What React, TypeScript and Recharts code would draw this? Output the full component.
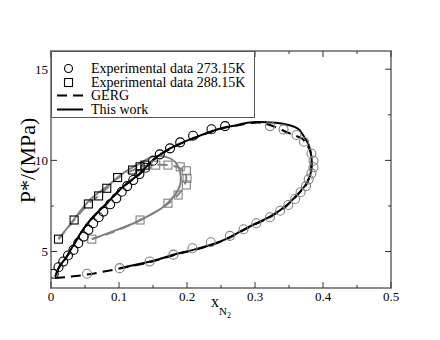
import React from "react";
import {
  ComposedChart,
  Line,
  Scatter,
  XAxis,
  YAxis,
  ReferenceArea,
  Legend,
} from "recharts";

const W = 440;
const H = 340;
const MARGIN = { top: 51, right: 49, bottom: 51, left: 50 };
const PLOT_W = W - MARGIN.left - 1 - MARGIN.right;
const PLOT_H = H - MARGIN.top - MARGIN.bottom - 1;

const FONT = '"Liberation Serif", "Times New Roman", serif';
const BLACK = "#000";
const GRAY = "#808080";
const FRAME = "#8c8c8c";
const TICK = "#333";

const X_TICKS = [0, 0.05, 0.1, 0.15, 0.2, 0.25, 0.3, 0.35, 0.4, 0.45, 0.5];
const Y_TICKS = [5, 7.5, 10, 12.5, 15];

type Pt = [number, number];

// experimental 273.15 K
const EXP273_BUBBLE: Pt[] = [
  [0.004, 3.78], [0.011, 4.14], [0.018, 4.45], [0.025, 4.78], [0.033, 5.09],
  [0.040, 5.46], [0.048, 5.82], [0.055, 6.19], [0.062, 6.55], [0.070, 6.88],
  [0.077, 7.19], [0.087, 7.59], [0.096, 7.92], [0.104, 8.28], [0.112, 8.59],
  [0.121, 8.92], [0.130, 9.25], [0.139, 9.6], [0.150, 9.98], [0.160, 10.33],
  [0.175, 10.66], [0.190, 10.99], [0.209, 11.35], [0.236, 11.71], [0.256, 11.88],
];
const EXP273_DEW: Pt[] = [
  [0.322, 11.88], [0.342, 11.7], [0.361, 11.39], [0.372, 11.02], [0.383, 10.38],
  [0.386, 9.98], [0.386, 9.62], [0.383, 9.29], [0.379, 8.96], [0.375, 8.59],
  [0.367, 8.25], [0.359, 7.88], [0.349, 7.55], [0.337, 7.24], [0.322, 6.88],
  [0.302, 6.55], [0.283, 6.22], [0.263, 5.86], [0.235, 5.51], [0.208, 5.18],
  [0.180, 4.83], [0.145, 4.45], [0.101, 4.09], [0.053, 3.78],
];

// experimental 288.15 K
const EXP288_BUBBLE: Pt[] = [
  [0.011, 5.68], [0.034, 6.73], [0.055, 7.61], [0.070, 8.05], [0.082, 8.47],
  [0.098, 9.06], [0.120, 9.47], [0.131, 9.65], [0.138, 9.74],
];
const EXP288_DEW: Pt[] = [
  [0.154, 9.74], [0.172, 9.74], [0.190, 9.65], [0.199, 9.43], [0.200, 9.02],
  [0.199, 8.65], [0.187, 8.1], [0.172, 7.65], [0.131, 6.73], [0.060, 5.68],
];

// model curves
const WORK273: Pt[] = [
  [0.006, 3.61], [0.013, 4.22], [0.023, 4.72], [0.043, 5.98], [0.062, 6.91],
  [0.082, 7.65], [0.106, 8.56], [0.131, 9.29], [0.150, 10.02], [0.180, 10.75],
  [0.214, 11.29], [0.249, 11.75], [0.273, 11.93], [0.300, 12.1], [0.351, 11.93],
  [0.369, 11.48], [0.378, 10.93], [0.383, 10.2], [0.383, 9.47], [0.376, 8.74],
  [0.364, 8.19], [0.347, 7.55], [0.322, 6.91], [0.302, 6.55], [0.278, 6.09],
  [0.249, 5.55], [0.209, 5.09], [0.180, 4.82], [0.146, 4.45], [0.101, 4.09],
];
const GERG273: Pt[] = [
  [0.006, 3.55], [0.05, 3.72], [0.101, 4.07], [0.146, 4.43], [0.180, 4.8],
  [0.209, 5.07], [0.249, 5.53], [0.278, 6.07], [0.302, 6.53], [0.322, 6.89],
  [0.347, 7.53], [0.364, 8.17], [0.376, 8.72], [0.382, 9.45], [0.383, 10.0],
  [0.381, 10.55], [0.375, 10.9], [0.369, 11.2], [0.351, 11.48], [0.325, 11.9],
  [0.300, 12.07], [0.273, 11.91], [0.249, 11.73], [0.214, 11.27], [0.180, 10.73],
  [0.150, 10.0], [0.131, 9.27], [0.106, 8.54], [0.082, 7.63], [0.062, 6.89],
  [0.043, 5.96], [0.023, 4.7], [0.013, 4.2], [0.006, 3.6],
];
const WORK288: Pt[] = [
  [0.011, 5.68], [0.033, 6.73], [0.057, 7.83], [0.082, 8.56], [0.106, 9.29],
  [0.131, 9.84], [0.150, 10.21], [0.170, 10.18], [0.185, 9.8], [0.191, 9.03],
  [0.187, 8.38], [0.176, 7.83], [0.163, 7.39], [0.146, 7.01], [0.126, 6.62],
  [0.093, 6.13], [0.060, 5.68],
];
const GERG288: Pt[] = [
  [0.011, 5.68], [0.034, 6.73], [0.055, 7.61], [0.070, 8.05], [0.082, 8.47],
  [0.098, 9.02], [0.120, 9.45], [0.138, 9.7], [0.155, 9.76], [0.172, 9.74],
  [0.188, 9.6], [0.197, 9.35], [0.199, 9.0], [0.196, 8.62], [0.187, 8.12],
  [0.172, 7.62], [0.150, 7.1], [0.131, 6.73], [0.100, 6.2], [0.060, 5.68],
];

const LEGEND_LABELS = [
  "Experimental data 273.15K",
  "Experimental data 288.15K",
  "GERG",
  "This work",
];

const toRows = (pts: Pt[]) => pts.map(([x, y]) => ({ x, y }));

const circle = (color: string) => (p: any) => (
  <circle cx={p.cx} cy={p.cy} r={4.5} fill="none" stroke={color} strokeWidth={1.1} />
);
const square = (color: string) => (p: any) => (
  <rect x={p.cx - 4} y={p.cy - 4} width={8} height={8} fill="none" stroke={color} strokeWidth={1.1} />
);

// ticks drawn inward on both sides of the frame
function XTick({ x, y, payload }: any) {
  const v: number = payload.value;
  const major = Math.round(v * 100) % 10 === 0;
  const len = major ? 6 : 3;
  return (
    <g>
      <line x1={x} x2={x} y1={y} y2={y - len} stroke={TICK} />
      <line x1={x} x2={x} y1={y - PLOT_H} y2={y - PLOT_H + len} stroke={TICK} />
      {major && (
        <text x={x} y={y + 13} textAnchor="middle" fontFamily={FONT} fontSize={13} fill="#000">
          {v === 0 ? "0" : v.toFixed(1)}
        </text>
      )}
    </g>
  );
}

function YTick({ x, y, payload }: any) {
  const v: number = payload.value;
  const major = Number.isInteger(v);
  const len = major ? 6 : 3;
  return (
    <g>
      <line x1={x} x2={x + len} y1={y} y2={y} stroke={TICK} />
      <line x1={x + PLOT_W} x2={x + PLOT_W - len} y1={y} y2={y} stroke={TICK} />
      {major && (
        <text x={x - 3} y={y + 4.5} textAnchor="end" fontFamily={FONT} fontSize={13} fill="#000">
          {v}
        </text>
      )}
    </g>
  );
}

function XLabel({ viewBox }: any) {
  const cx = viewBox.x + viewBox.width / 2;
  return (
    <text x={cx - 10} y={307} fontFamily={FONT} fill="#000">
      <tspan fontSize={16}>x</tspan>
      <tspan fontSize={11} dy={8}>N</tspan>
      <tspan fontSize={8} dy={3}>2</tspan>
    </text>
  );
}

function YLabel({ viewBox }: any) {
  const cx = 27;
  const cy = viewBox.y + viewBox.height / 2 - 9;
  return (
    <text
      x={cx}
      y={cy}
      transform={`rotate(-90, ${cx}, ${cy})`}
      textAnchor="middle"
      dominantBaseline="central"
      fontFamily={FONT}
      fontSize={22}
      fill="#000"
    >
      P*/(MPa)
    </text>
  );
}

function LegendBox() {
  const symbols = [
    <circle cx={16.5} cy={6.5} r={4} fill="none" stroke={BLACK} strokeWidth={1.1} />,
    <rect x={12.5} y={2.5} width={8} height={8} fill="none" stroke={BLACK} strokeWidth={1.1} />,
    <line x1={5} x2={31} y1={6.5} y2={6.5} stroke={BLACK} strokeWidth={2} strokeDasharray="10 6" />,
    <line x1={5} x2={31} y1={6.5} y2={6.5} stroke={BLACK} strokeWidth={2} />,
  ];
  return (
    <div
      style={{
        width: 204,
        height: 67,
        boxSizing: "border-box",
        border: "1px solid #555",
        background: "#fff",
        paddingTop: 10,
        fontFamily: FONT,
        fontSize: 14,
        color: "#000",
      }}
    >
      {LEGEND_LABELS.map((label, i) => (
        <div key={label} style={{ display: "flex", alignItems: "center", height: 13.5 }}>
          <svg width={39} height={13} style={{ flexShrink: 0 }}>
            {symbols[i]}
          </svg>
          <span style={{ lineHeight: "13.5px", whiteSpace: "nowrap" }}>{label}</span>
        </div>
      ))}
    </div>
  );
}

export default function App() {
  return (
    <div style={{ width: W, height: H, background: "#fff" }}>
      <style>{"body{margin:0}"}</style>
      <ComposedChart width={W} height={H} margin={MARGIN}>
        <XAxis
          type="number"
          dataKey="x"
          domain={[0, 0.5]}
          ticks={X_TICKS}
          interval={0}
          height={1}
          tickSize={0}
          tickMargin={0}
          axisLine={false}
          tickLine={false}
          tick={<XTick />}
          label={<XLabel />}
          allowDataOverflow
        />
        <YAxis
          type="number"
          dataKey="y"
          domain={[3, 16]}
          ticks={Y_TICKS}
          interval={0}
          width={1}
          tickSize={0}
          tickMargin={0}
          axisLine={false}
          tickLine={false}
          tick={<YTick />}
          label={<YLabel />}
          allowDataOverflow
        />
        <Legend
          layout="vertical"
          align="center"
          verticalAlign="middle"
          content={<LegendBox />}
          wrapperStyle={{ left: 51, top: 51, width: 204, height: 67 }}
        />
        <Line data={toRows(GERG288)} dataKey="y" type="natural" stroke={GRAY} strokeWidth={2} strokeDasharray="10 6" dot={false} isAnimationActive={false} />
        <Line data={toRows(WORK288)} dataKey="y" type="natural" stroke={GRAY} strokeWidth={2} dot={false} isAnimationActive={false} />
        <Line data={toRows(GERG273)} dataKey="y" type="natural" stroke={BLACK} strokeWidth={2} strokeDasharray="10 6" dot={false} isAnimationActive={false} />
        <Line data={toRows(WORK273)} dataKey="y" type="natural" stroke={BLACK} strokeWidth={2} dot={false} isAnimationActive={false} />
        <Scatter data={toRows(EXP288_DEW)} shape={square(GRAY)} isAnimationActive={false} />
        <Scatter data={toRows(EXP288_BUBBLE)} shape={square(BLACK)} isAnimationActive={false} />
        <Scatter data={toRows(EXP273_DEW)} shape={circle(GRAY)} isAnimationActive={false} />
        <Scatter data={toRows(EXP273_BUBBLE)} shape={circle(BLACK)} isAnimationActive={false} />
        <ReferenceArea x1={0} x2={0.5} y1={3} y2={16} fill="none" stroke={FRAME} strokeWidth={2} ifOverflow="visible" />
      </ComposedChart>
    </div>
  );
}
